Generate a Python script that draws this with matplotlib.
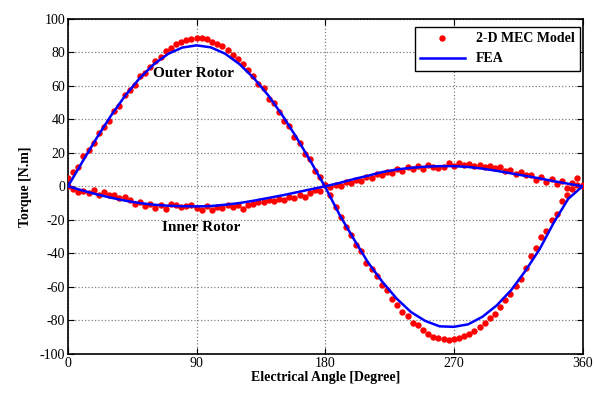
import numpy as np
import matplotlib
matplotlib.use("Agg")
import matplotlib.pyplot as plt

# MEC samples every 3.6 degrees, FEA every 10 degrees
angle_mec = np.arange(0, 360.1, 3.6)
angle_fea = np.arange(0, 361, 10)

outer_mec = [5.0, 8.3, 11.5, 18.0, 21.6, 25.5, 31.6, 35.5, 38.8, 45.0,
             48.0, 54.3, 57.5, 60.6, 65.6, 67.8, 71.0, 74.8, 77.2, 80.8,
             82.7, 84.6, 86.2, 87.3, 87.8, 88.2, 88.2, 87.6, 86.2, 85.0,
             83.4, 81.2, 78.4, 76.0, 73.0, 69.5, 66.0, 61.2, 58.3, 52.0,
             49.5, 44.5, 39.2, 36.0, 29.2, 26.0, 19.5, 16.0, 9.2, 5.6,
             0.5, -5.5, -12.5, -18.5, -24.5, -29.0, -35.0, -38.5, -45.5, -49.5,
             -53.5, -59.0, -62.0, -67.5, -70.5, -75.0, -77.5, -81.3, -83.0, -85.8,
             -88.0, -89.6, -90.6, -91.1, -91.4, -90.9, -90.2, -89.2, -88.0, -86.4,
             -84.0, -81.8, -78.5, -76.0, -71.8, -68.0, -64.0, -59.5, -55.0, -48.5,
             -41.5, -37.0, -30.5, -26.5, -20.0, -16.5, -9.0, -5.2, -1.5, 4.8,
             1.0]

inner_mec = [0.0, -1.8, -3.2, -2.8, -4.0, -2.2, -5.2, -3.6, -5.4, -5.0,
             -6.8, -6.4, -8.4, -10.3, -9.6, -11.9, -10.5, -12.7, -10.9, -13.3,
             -10.4, -11.2, -12.4, -12.0, -11.0, -12.8, -13.9, -12.0, -14.3, -12.4,
             -13.0, -11.0, -12.6, -11.0, -13.3, -11.0, -10.3, -9.4, -9.4, -8.0,
             -8.8, -7.7, -8.3, -6.4, -6.8, -5.0, -6.4, -4.0, -2.4, -2.8,
             1.0, -0.4, 0.8, 0.0, 2.6, 1.8, 4.0, 3.4, 5.6, 4.8,
             7.6, 6.8, 8.6, 8.2, 10.2, 9.2, 11.2, 10.0, 12.0, 10.2,
             12.6, 11.2, 10.8, 11.5, 14.0, 12.0, 13.6, 12.4, 13.0, 12.0,
             12.6, 11.5, 12.0, 10.8, 11.2, 9.1, 9.4, 7.6, 8.4, 6.6,
             7.0, 4.0, 5.6, 2.6, 4.2, 1.6, 3.4, -0.8, 1.8, 0.6,
             0.0]

outer_fea = [0.0, 14.5, 28.7, 42.0, 54.0, 64.3, 72.7, 78.9, 82.7, 84.0,
             82.8, 79.0, 72.8, 64.5, 54.3, 42.3, 28.9, 14.5, -0.5, -17.0,
             -31.5, -45.5, -57.0, -67.0, -75.0, -80.3, -83.5, -83.8, -82.3, -77.8,
             -71.0, -62.0, -50.5, -37.5, -21.5, -7.5, 0.0]

inner_fea = [0.0, -2.5, -4.8, -6.8, -8.6, -10.0, -11.0, -11.6, -11.9, -12.0,
             -11.8, -11.0, -10.0, -8.6, -7.0, -5.4, -3.6, -1.8, 0.0, 2.0,
             4.3, 6.3, 8.5, 10.0, 11.0, 11.7, 12.0, 12.0, 11.5, 10.5,
             9.2, 7.7, 6.2, 4.7, 3.0, 1.5, 0.0]

x_ticks = [0, 90, 180, 270, 360]
y_ticks = list(range(-100, 101, 20))

plt.rcParams["font.family"] = ["Liberation Serif", "DejaVu Serif"]
plt.rcParams["axes.unicode_minus"] = False

fig = plt.figure(figsize=(5.95, 3.94), dpi=100)
ax = fig.add_axes([0.1143, 0.1015, 0.979 - 0.1143, 0.953 - 0.1015])

ax.plot(angle_mec, outer_mec, "o", color="#ff0000", ms=4.6, mec="none",
        label="2-D MEC Model", zorder=3)
ax.plot(angle_mec, inner_mec, "o", color="#ff0000", ms=4.6, mec="none", zorder=3)
ax.plot(angle_fea, outer_fea, "-", color="#0000ff", lw=1.8, label="FEA", zorder=4)
ax.plot(angle_fea, inner_fea, "-", color="#0000ff", lw=1.8, zorder=4)

ax.set_xlim(0, 360)
ax.set_ylim(-100, 100)
ax.set_xticks(x_ticks)
ax.set_yticks(y_ticks)
ax.tick_params(direction="in", top=True, right=True, length=4, width=0.8,
               labelsize=10, pad=2)
ax.grid(True, linestyle=":", color="#808080", lw=0.9)
for s in ax.spines.values():
    s.set_linewidth(1.2)

ax.set_xlabel("Electrical Angle [Degree]", fontsize=10, fontweight="bold", labelpad=1)
ax.set_ylabel("Torque [N.m]", fontsize=10, fontweight="bold", labelpad=6)

ax.text(88, 67, "Outer Rotor", fontsize=11, fontweight="bold",
        ha="center", va="center")
ax.text(93, -24.5, "Inner Rotor", fontsize=11, fontweight="bold",
        ha="center", va="center")

leg = ax.legend(loc="upper right", bbox_to_anchor=(0.995, 0.975), borderaxespad=0,
                numpoints=1, handlelength=3.2, fancybox=False, framealpha=1,
                edgecolor="black", prop={"weight": "bold", "size": 10})
leg.get_frame().set_linewidth(1.0)

fig.savefig("out.png", dpi=100)
